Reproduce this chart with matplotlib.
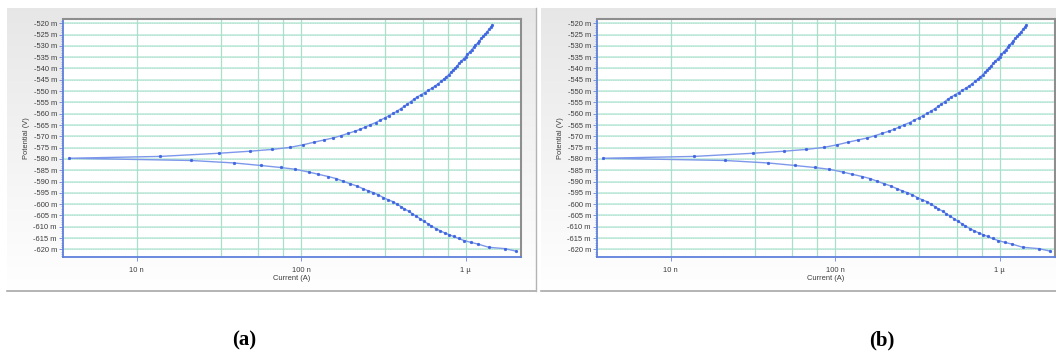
import numpy as np
import matplotlib
matplotlib.use("Agg")
import matplotlib.pyplot as plt
from matplotlib.lines import Line2D

# ---------------- data ----------------
# cathodic branch, potential (mV) and |current| (nA)
E_cath = [-620.8, -619.7, -619.1, -617.7, -616.9, -616.1, -615.2, -614.3, -613.5, -612.7,
          -611.8, -610.8, -609.7, -608.6, -607.5, -606.4, -605.3, -604.2, -603.1, -602.1,
          -601.1, -600.0, -598.9, -598.1, -597.1, -595.9, -594.9, -594.1, -593.2, -592.0,
          -591.0, -589.9, -588.7, -587.8, -586.8, -585.8, -584.6, -583.8, -582.9, -581.8,
          -580.7]
I_cath = [2020, 1730, 1380, 1190, 1070, 977, 904, 844, 792, 743,
          700, 658, 619, 586, 555, 527, 499, 472, 449, 424,
          404, 382, 361, 338, 316, 294, 274, 255, 238, 218,
          199, 180, 163, 146, 127, 111, 92.3, 75.0, 56.7, 39.2,
          21.4]
# corrosion point
E_corr = [-579.7]
I_corr = [3.9]
# anodic branch
E_anod = [-578.9, -577.5, -576.6, -575.8, -574.9, -573.8, -572.6, -571.6, -570.7, -569.7,
          -568.7, -567.8, -566.9, -565.9, -564.9, -563.9, -562.8, -561.9, -560.8, -559.9,
          -558.9, -557.8, -556.8, -555.7, -554.7, -553.7, -552.7, -551.7, -550.7, -549.7,
          -548.7, -547.7, -546.7, -545.7, -544.7, -543.7, -542.7, -541.7, -540.7, -539.7,
          -538.7, -537.7, -536.7, -535.7, -534.7, -533.7, -532.7, -531.7, -530.7, -529.7,
          -528.7, -527.7, -526.7, -525.7, -524.7, -523.7, -522.7, -521.7, -520.7]
I_anod = [13.9, 31.6, 48.8, 66.7, 85.5, 102, 120, 138, 157, 175,
          193, 211, 228, 245, 263, 284, 303, 322, 342, 362,
          382, 402, 422, 442, 462, 482, 505, 532, 562, 592,
          622, 652, 680, 708, 735, 762, 788, 812, 838, 865,
          890, 915, 942, 970, 998, 1025, 1055, 1085, 1115, 1145,
          1180, 1210, 1245, 1280, 1315, 1350, 1385, 1420, 1450]

y_ticks = list(range(-520, -621, -5))
y_tick_labels = [f"{v} m" for v in y_ticks]
x_ticks = [1e-8, 1e-7, 1e-6]
x_tick_labels = ["10 n", "100 n", "1 \u00b5"]
x_grid_decades = [1e-8, 1e-7, 1e-6]
x_minor_grid_factors = [3.25, 5.5, 7.75]
panel_labels = ["(a)", "(b)"]

E_all = np.array(E_cath + E_corr + E_anod)
I_all = np.array(I_cath + I_corr + I_anod) * 1e-9

# ---------------- figure ----------------
W, H = 1056, 352
fig = plt.figure(figsize=(W / 100, H / 100), dpi=100)
fig.patch.set_facecolor("white")

def fbox(x0, y0, x1, y1):
    return [x0 / W, 1 - y1 / H, (x1 - x0) / W, (y1 - y0) / H]

grad = np.linspace(0.905, 1.0, 256).reshape(-1, 1)
grad_img = np.dstack([grad, grad, grad])

panels = [
    dict(bg=(7, 8, 536, 291), ax=(63, 19, 521, 257), ylab_x=26.7, lab_x=244, right_border=True),
    dict(bg=(541, 8, 1056, 291), ax=(597, 19, 1055, 257), ylab_x=561, lab_x=882, right_border=False),
]

hgrid_col = "#c2eadb"
vgrid_col = "#a9e0cb"
line_col = "#7d98ea"
mk_col = "#3d64e0"
font = ["Liberation Sans", "DejaVu Sans"]

for p, lab in zip(panels, panel_labels):
    bx0, by0, bx1, by1 = p["bg"]
    bg = fig.add_axes(fbox(bx0, by0, bx1, by1), zorder=0)
    bg.imshow(grad_img, aspect="auto", extent=[0, 1, 0, 1], origin="upper")
    bg.set_axis_off()
    fig.add_artist(Line2D([bx0 / W, bx1 / W], [1 - by1 / H, 1 - by1 / H],
                          color="#a8a8a8", lw=1.2, transform=fig.transFigure))
    if p["right_border"]:
        fig.add_artist(Line2D([bx1 / W, bx1 / W], [1 - by0 / H, 1 - by1 / H],
                              color="#b4b4b4", lw=1.0, transform=fig.transFigure))

    ax0, ay0, ax1, ay1 = p["ax"]
    ax = fig.add_axes(fbox(ax0, ay0, ax1, ay1), zorder=2)
    ax.set_facecolor("white")
    ax.set_xscale("log")
    ax.set_xlim(10 ** -8.448, 10 ** -5.664)
    ax.set_ylim(-623.4, -518.1)

    for yv in y_ticks:
        ax.axhline(yv, color=hgrid_col, lw=1.2, zorder=1)
        ax.axhline(yv, color="#9fdcc4", lw=0.5, ls=(0, (1, 1.5)), zorder=1)
    for dec in x_grid_decades:
        ax.axvline(dec, color=vgrid_col, lw=0.9, zorder=1)
        for f in x_minor_grid_factors:
            ax.axvline(dec * f, color=vgrid_col, lw=0.9, zorder=1)

    ax.plot(I_all, E_all, color=line_col, lw=1.0, zorder=3,
            marker="o", markersize=2.0, markerfacecolor=mk_col,
            markeredgecolor=mk_col, markeredgewidth=0.3)

    ax.set_yticks(y_ticks)
    ax.set_yticklabels(y_tick_labels, fontsize=5.4, color="#3c3c3c", family=font)
    ax.set_yticks(np.arange(-623, -518, 1), minor=True)
    ax.set_xticks(x_ticks)
    ax.set_xticklabels(x_tick_labels, fontsize=5.4, color="#3c3c3c", family=font)
    ax.xaxis.set_minor_locator(matplotlib.ticker.NullLocator())
    ax.tick_params(axis="y", which="major", length=3, width=0.6, color="#6a86d8", pad=1.5)
    ax.tick_params(axis="y", which="minor", length=1.5, width=0.4, color="#6a86d8")
    ax.tick_params(axis="x", which="major", length=3, width=0.6, color="#6a86d8", pad=4)

    for s in ["top", "right"]:
        ax.spines[s].set_color("#8e8e8e")
        ax.spines[s].set_linewidth(1.5)
    for s in ["left", "bottom"]:
        ax.spines[s].set_color("#5f80dc")
        ax.spines[s].set_linewidth(1.3)

    ax.set_xlabel("Current (A)", fontsize=5.4, color="#3c3c3c", family=font, labelpad=1)
    fig.text(p["ylab_x"] / W, 1 - 138 / H, "Potential (V)", rotation=90,
             ha="center", va="center", fontsize=5.4, color="#3c3c3c", family=font)

    fig.text(p["lab_x"] / W, 1 - 340 / H, lab, ha="center", va="center",
             fontsize=15, fontweight="bold", family=["Liberation Serif", "DejaVu Serif"])

fig.savefig("out.png", dpi=100)
